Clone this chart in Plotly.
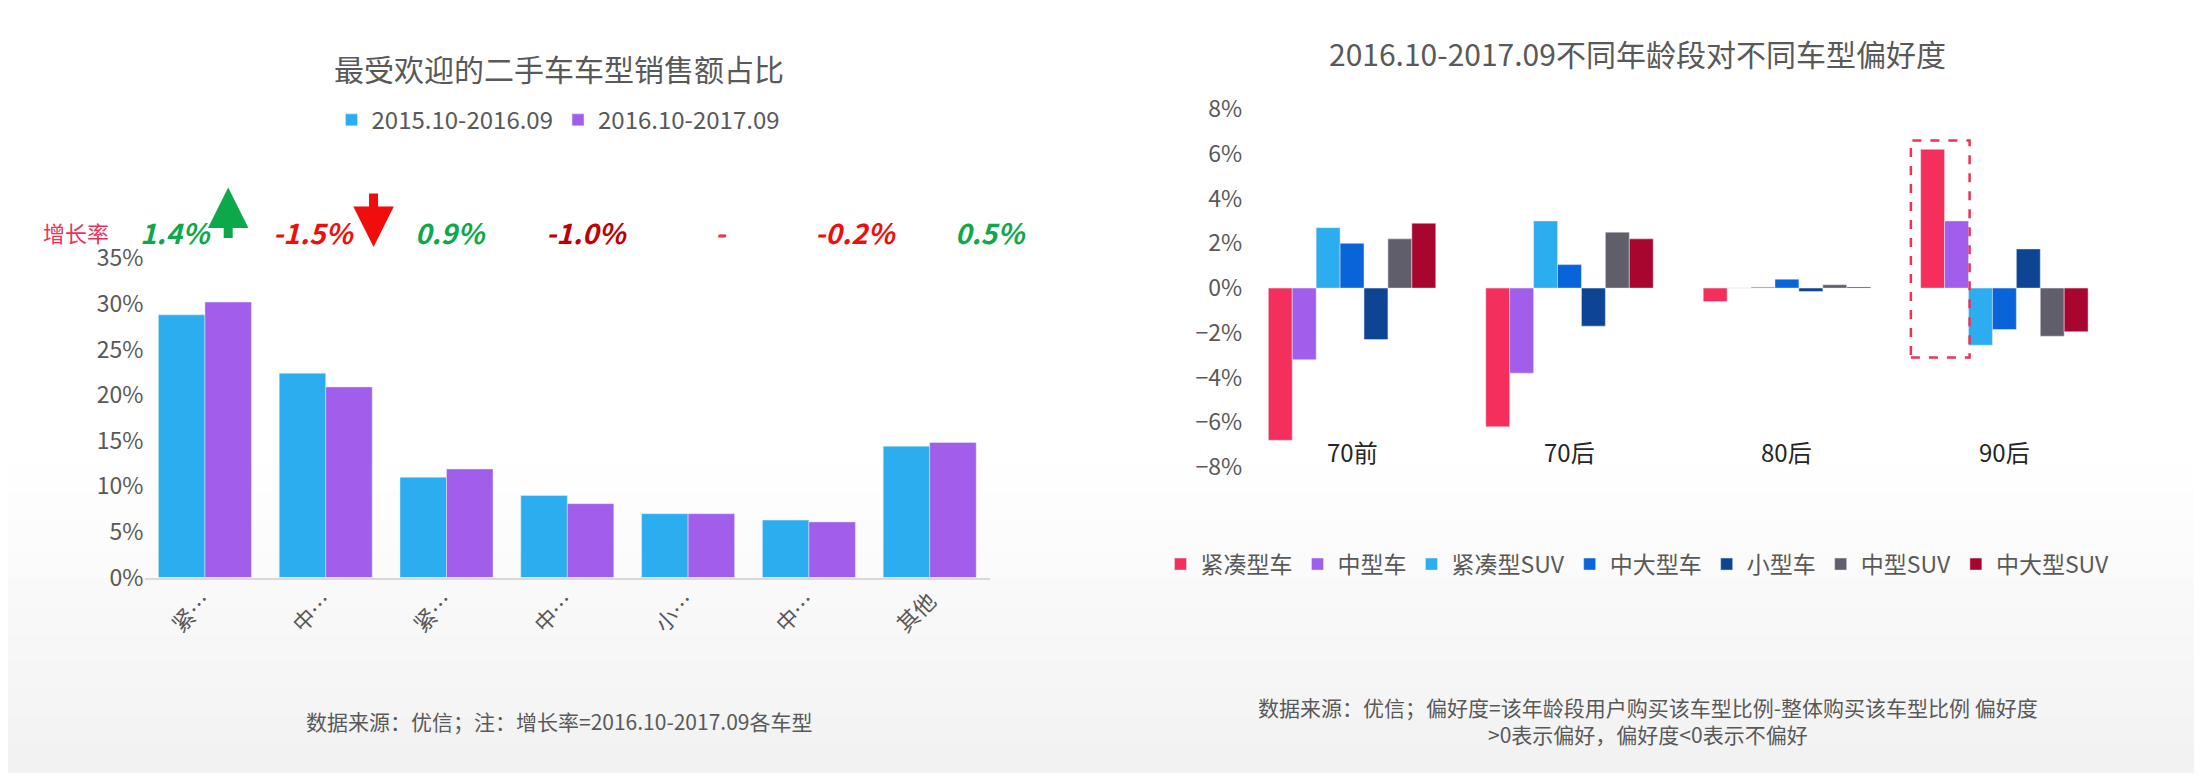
import plotly.graph_objects as go

# 左图：二手车车型销售额占比
cats_left = ['紧…', '中…', '紧…', '中…', '小…', '中…', '其他']
cats_left_ids = ['a', 'b', 'c', 'd', 'e', 'f', 'g']
share_2016 = [28.8, 22.4, 11.0, 9.0, 7.0, 6.3, 14.4]
share_2017 = [30.2, 20.9, 11.9, 8.1, 7.0, 6.1, 14.8]
growth = ['1.4%', '-1.5%', '0.9%', '-1.0%', '-', '-0.2%', '0.5%']
growth_col = ['#0DA84A', '#F20D0D', '#0DA84A', '#C00000', '#F0305A', '#F20D0D', '#0DA84A']
growth_pos = [0.076, 0.139, 0.201, 0.263, 0.324, 0.385, 0.446]

# 右图：不同年龄段偏好度
ages = ['70前', '70后', '80后', '90后']
car_types = ['紧凑型车', '中型车', '紧凑型SUV', '中大型车', '小型车', '中型SUV', '中大型SUV']
pref = {
    '紧凑型车': [-6.8, -6.2, -0.6, 6.2],
    '中型车': [-3.2, -3.8, 0.0, 3.0],
    '紧凑型SUV': [2.7, 3.0, 0.05, -2.55],
    '中大型车': [2.0, 1.05, 0.4, -1.85],
    '小型车': [-2.3, -1.7, -0.15, 1.75],
    '中型SUV': [2.2, 2.5, 0.15, -2.15],
    '中大型SUV': [2.9, 2.2, 0.05, -1.95],
}
colors = ['#F42F5B', '#A05EEA', '#2CADEF', '#0A64D9', '#0E4494', '#5F5E6A', '#A8062E']

font = 'Noto Sans CJK SC'
gray = '#595959'

fig = go.Figure()
fig.add_bar(x=cats_left_ids, y=share_2016, name='2015.10-2016.09', marker_color='#2CADEF',
            xaxis='x', yaxis='y', legend='legend')
fig.add_bar(x=cats_left_ids, y=share_2017, name='2016.10-2017.09', marker_color='#A05EEA',
            xaxis='x', yaxis='y', legend='legend')
for name, c in zip(car_types, colors):
    fig.add_bar(x=ages, y=pref[name], name=name, marker_color=c,
                xaxis='x2', yaxis='y2', legend='legend2')

# 背景渐变（底部浅灰）
shapes = []
for i in range(12):
    g = 255 - int(i * 1.2)
    shapes.append(dict(type='rect', xref='paper', yref='paper', x0=0, x1=1,
                       y0=0.45 - (i + 1) * 0.0375, y1=0.45 - i * 0.0375,
                       fillcolor=f'rgb({g},{g},{g})', line_width=0, layer='below'))
shapes.append(dict(type='rect', xref='x2', yref='y2', x0=2.57, x1=2.84, y0=-3.1, y1=6.6,
                   line=dict(color='#F0305A', width=2.5, dash='dash')))

def txt(text, x, y, size, color=gray, **kw):
    return dict(text=text, x=x, y=y, xref='paper', yref='paper', showarrow=False,
                xanchor='center', yanchor='middle', font=dict(size=size, color=color), **kw)

ann = [
    txt('最受欢迎的二手车车型销售额占比', 0.25, 0.945, 30),
    txt('2016.10-2017.09不同年龄段对不同车型偏好度', 0.74, 0.965, 30),
    txt('增长率', 0.031, 0.725, 22, '#F0305A'),
    txt('数据来源：优信；注：增长率=2016.10-2017.09各车型', 0.25, 0.07, 21),
    txt('数据来源：优信；偏好度=该年龄段用户购买该车型比例-整体购买该车型比例 偏好度<br>>0表示偏好，偏好度<0表示不偏好',
        0.745, 0.07, 21),
]
for x, g, c in zip(growth_pos, growth, growth_col):
    ann.append(txt(f'<b><i>{g}</i></b>', x, 0.725, 28, c))
# 上升/下降箭头
ann.append(dict(x=0.100, y=0.785, xref='paper', yref='paper', ax=0, ay=52,
                showarrow=True, arrowhead=2, arrowsize=0.9, arrowwidth=9,
                arrowcolor='#0DA84A', text=''))
ann.append(dict(x=0.166, y=0.705, xref='paper', yref='paper', ax=0, ay=-55,
                showarrow=True, arrowhead=2, arrowsize=0.9, arrowwidth=9,
                arrowcolor='#F20D0D', text=''))
for a in ages:
    ann.append(dict(text=a, x=a, y=-7.3, xref='x2', yref='y2', showarrow=False,
                    font=dict(size=24, color='#262626')))

fig.update_layout(
    width=2202, height=780, margin=dict(l=0, r=0, t=0, b=0),
    paper_bgcolor='white', plot_bgcolor='rgba(0,0,0,0)',
    font=dict(family=font, color=gray),
    barmode='group', bargap=0.23, bargroupgap=0,
    shapes=shapes, annotations=ann,
    xaxis=dict(domain=[0.062, 0.446], anchor='y', tickvals=cats_left_ids, ticktext=cats_left,
               tickangle=-45, tickfont=dict(size=22, color=gray), showline=True,
               linecolor='#D9D9D9', linewidth=2, ticks=''),
    yaxis=dict(domain=[0.262, 0.69], anchor='x', range=[0, 35], dtick=5, ticksuffix='%',
               showgrid=False, zeroline=False, tickfont=dict(size=23, color=gray)),
    xaxis2=dict(domain=[0.561, 0.956], anchor='y2', showticklabels=False, ticks='',
                showline=False),
    yaxis2=dict(domain=[0.41, 0.89], anchor='x2', range=[-8, 8], dtick=2, ticksuffix='%',
                showgrid=False, zeroline=False, tickfont=dict(size=23, color=gray)),
    legend=dict(orientation='h', x=0.25, xanchor='center', y=0.875, yanchor='middle',
                font=dict(size=24, color=gray), itemwidth=30, bgcolor='rgba(0,0,0,0)'),
    legend2=dict(orientation='h', x=0.74, xanchor='center', y=0.28, yanchor='middle',
                 font=dict(size=23, color=gray), itemwidth=30, bgcolor='rgba(0,0,0,0)',
                 tracegroupgap=0),
)
fig.write_html('out.html')
